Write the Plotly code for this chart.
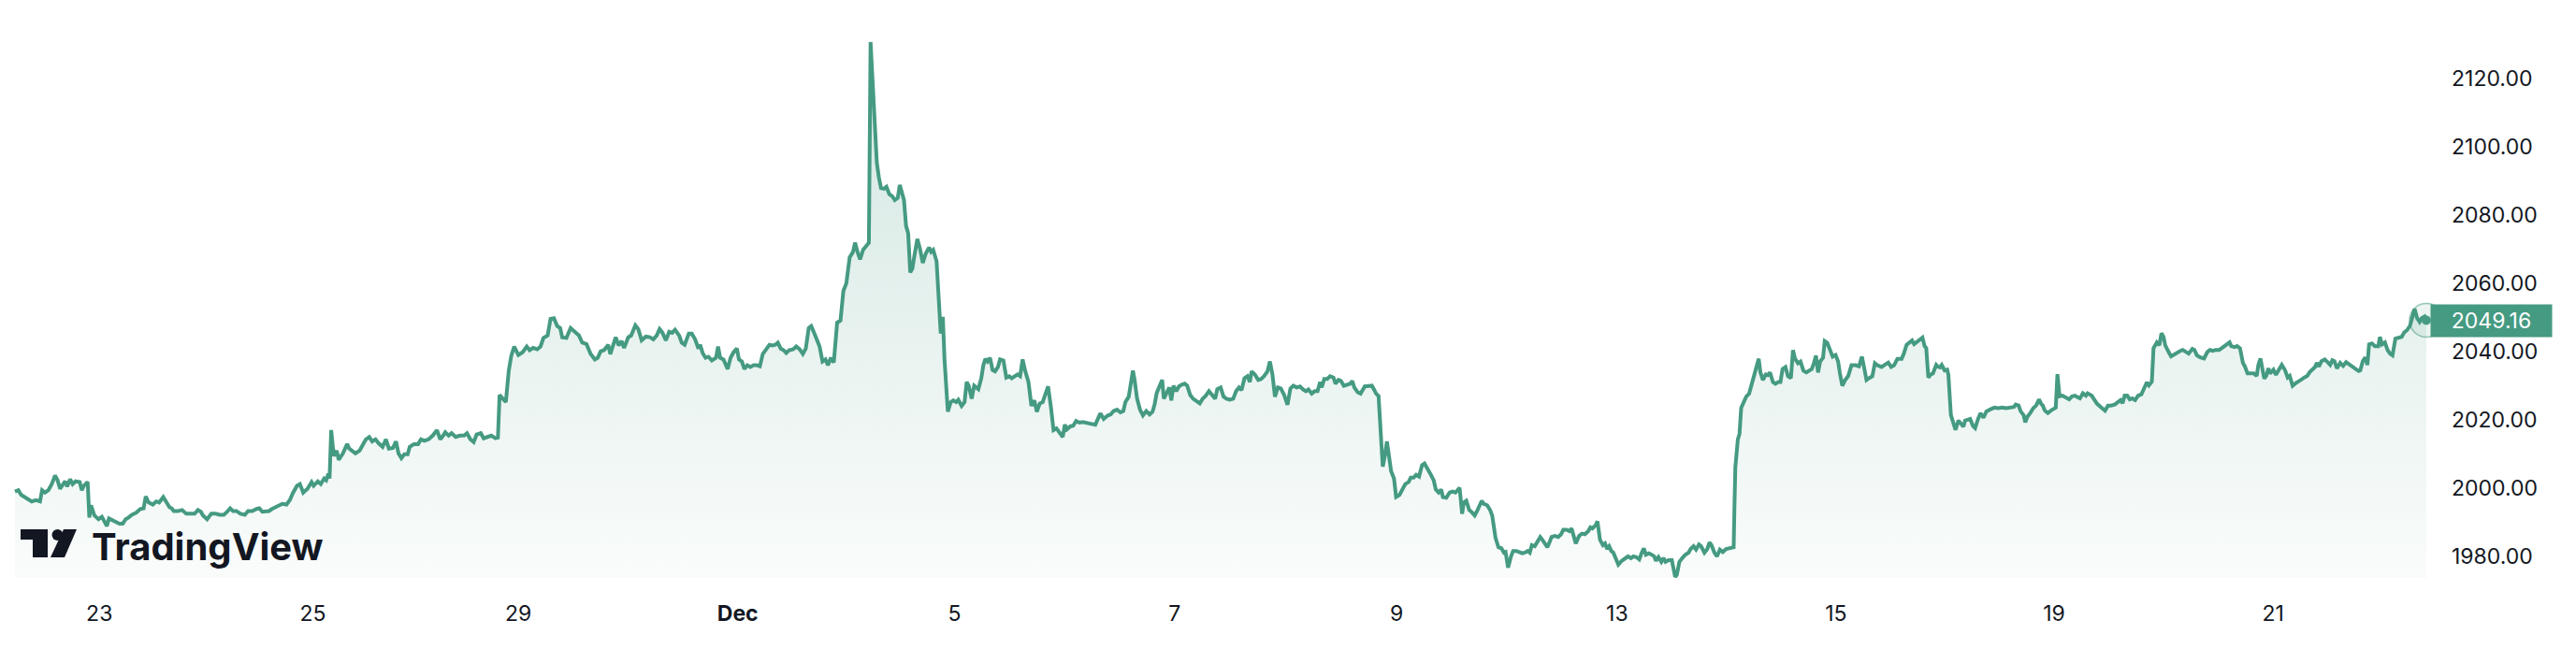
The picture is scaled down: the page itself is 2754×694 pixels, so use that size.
import plotly.graph_objects as go

# ---------------- data (bar index, price) ----------------
nov_pts = [(40,1999.0),(48,1999.4),(55,1998.0),(70,1996.9),(80,1996.1),(90,1996.5),(100,1996.1),(105,1999.4),(112,1998.7),(120,1999.4),
(128,2001.2),(136,2003.7),(142,2002.3),(148,1999.8),(155,2001.2),(160,2002.0),(165,2000.5),(172,2002.6),(178,2001.2),(185,2002.0),
(195,2001.8),(200,1999.4),(205,2000.7),(210,2001.5),(214,2001.8),(218,1991.4),(222,1995.0),(230,1992.0),(240,1990.9),(248,1991.6),
(255,1990.3),(260,1988.9),(265,1991.1),(272,1990.7),(280,1990.0),(290,1989.6),(298,1989.6),(305,1990.9),(312,1991.4),(320,1992.2),
(330,1992.8),(340,1993.9),(348,1994.1),(353,1997.6),(360,1995.8),(370,1995.2),(378,1996.1),(385,1995.8),(395,1997.4),(402,1995.8),
(410,1994.4),(415,1994.1),(420,1993.3),(430,1993.3),(440,1993.6),(450,1992.5),(460,1992.5),(470,1992.5),(478,1993.6),(485,1993.1),
(490,1992.0),(500,1990.9),(510,1992.5),(520,1992.5),(530,1992.2),(540,1992.2),(548,1993.1),(555,1994.1),(562,1993.3),(570,1993.3),
(580,1992.5),(590,1992.2),(598,1993.3),(608,1993.3),(618,1993.9),(625,1994.1),(632,1993.1),(640,1993.3),(648,1993.3),(655,1993.9),
(662,1994.4),(672,1995.0),(680,1995.4),(690,1995.2),(698,1996.5),(705,1998.5),(715,2000.7),(722,2001.2),(730,1998.7),(740,1999.8),
(750,2001.8),(755,2000.7),(765,2002.0),(772,2001.2),(780,2002.8),(785,2002.3),(790,2004.2),(793,2002.8),(797,2017.0),(803,2009.4),
(810,2011.0),(815,2008.3),(825,2010.2),(835,2012.9),(840,2011.6),(855,2010.2),(865,2011.0),(870,2012.1),(880,2014.3),(888,2015.0),
(895,2013.7),(903,2014.3),(910,2013.2),(920,2012.1),(928,2014.3),(935,2011.6),(945,2011.8),(952,2013.7),(958,2010.2),(965,2008.8),
(972,2009.9),(980,2009.9),(985,2012.1),(995,2012.9),(1005,2012.9),(1012,2014.3),(1020,2013.9),(1030,2014.3),(1040,2015.4),(1050,2017.0),
(1058,2014.3),(1065,2015.4),(1070,2016.4),(1078,2015.4),(1085,2016.1),(1095,2015.0),(1105,2015.4),(1115,2015.4),(1122,2016.1),(1130,2014.3),
(1138,2013.5),(1145,2015.7),(1155,2016.1),(1162,2014.6),(1170,2015.0),(1180,2015.4),(1190,2014.6),(1196,2014.8),(1200,2027.3),(1210,2025.7),
(1215,2025.2),(1222,2034.4),(1228,2038.8),(1235,2041.5),(1245,2039.0),(1255,2039.8),(1265,2041.5),(1272,2040.4),(1280,2041.1),(1290,2040.7),
(1298,2041.5),(1305,2044.0),(1315,2044.7),(1322,2049.6),(1330,2049.8),(1338,2047.5),(1345,2046.9),(1350,2044.2),(1360,2044.0),(1370,2046.9),
(1380,2045.8),(1390,2044.7),(1398,2042.6),(1408,2042.2),(1418,2039.3),(1428,2037.7),(1435,2038.2),(1442,2040.1),(1450,2040.4),(1460,2042.0),
(1465,2039.3),(1470,2040.9),(1478,2044.2),(1485,2041.8),(1492,2043.1),(1498,2041.1),(1508,2044.2),(1515,2044.7),(1525,2047.7),(1532,2046.6),
(1540,2043.3),(1550,2044.4),(1560,2044.2)]

early_dec_pts = [(1568,2043.6),(1576,2044.7),(1583,2046.6),(1590,2045.5),(1598,2043.3),(1606,2045.8),(1613,2045.5),(1620,2046.4),(1630,2044.7),
(1636,2042.6),(1643,2042.0),(1653,2045.3),(1660,2045.3),(1668,2043.6),(1676,2040.9),(1680,2042.0),(1686,2039.6),(1693,2038.2),(1700,2038.5),
(1708,2037.4),(1718,2038.2),(1723,2041.5),(1728,2038.2),(1736,2037.7),(1746,2034.9),(1753,2038.2),(1760,2039.8),(1768,2040.9),(1773,2037.7),
(1780,2037.1),(1786,2034.9),(1793,2036.0),(1800,2035.5),(1808,2036.0),(1816,2036.0),(1823,2035.7),(1830,2039.3),(1838,2040.9),(1846,2042.0),
(1853,2041.8),(1860,2042.0),(1866,2042.6),(1873,2040.9),(1880,2040.4),(1886,2039.6),(1893,2040.4),(1903,2040.7),(1910,2041.5),(1918,2040.7),
(1926,2039.3),(1933,2040.9),(1940,2046.9),(1946,2047.5),(1953,2045.5),(1960,2043.6),(1966,2041.5),(1973,2037.1),(1980,2037.7),(1986,2036.0),
(1993,2038.2),(2000,2036.8),(2008,2048.5),(2016,2049.1),(2023,2057.8),(2030,2060.0),(2038,2067.6),(2046,2069.2),(2051,2071.9),(2058,2068.7),
(2063,2067.0),(2070,2069.8),(2078,2071.2),(2084,2071.9),(2088,2130.7),(2093,2117.1),(2098,2102.9),(2103,2095.3),(2108,2091.0),(2113,2087.9),
(2120,2087.7),(2126,2088.3),(2133,2086.1),(2140,2085.5),(2146,2084.4),(2153,2085.0),(2158,2088.8),(2163,2086.1),(2168,2084.4),(2173,2076.8),
(2178,2074.7),(2183,2063.2),(2188,2064.3),(2193,2068.1),(2200,2073.0),(2206,2070.3),(2213,2066.0),(2220,2068.7),(2228,2070.5),(2233,2069.2),
(2238,2069.8),(2246,2066.5),(2250,2058.3),(2256,2045.3),(2261,2050.2),(2265,2037.7),(2273,2022.4),(2280,2025.2),(2286,2025.7),(2293,2025.2),
(2298,2025.9),(2306,2024.1),(2313,2025.2),(2318,2031.1),(2323,2030.0),(2330,2026.2),(2336,2030.0),(2346,2029.0),(2353,2032.2),(2358,2036.0),
(2363,2037.9),(2368,2037.1),(2374,2038.2),(2380,2034.6),(2386,2034.2),(2393,2035.5),(2398,2037.7),(2406,2037.4),(2413,2032.4),(2420,2032.8),
(2426,2032.2),(2433,2032.8),(2440,2033.3),(2446,2032.8),(2452,2037.7),(2458,2034.4),(2466,2031.1),(2473,2024.1),(2480,2025.7),(2486,2022.4),
(2493,2024.8),(2500,2025.2),(2506,2027.3),(2513,2029.8),(2520,2023.5),(2526,2017.0),(2533,2017.5),(2540,2016.1),(2548,2015.0),(2553,2018.6),
(2558,2017.2),(2566,2018.1),(2573,2018.3),(2580,2019.7),(2588,2019.2),(2596,2019.4),(2606,2019.2),(2616,2019.0),(2626,2018.6),(2633,2020.5),
(2638,2021.9),(2646,2020.3),(2656,2021.3),(2663,2021.6),(2670,2022.6),(2678,2023.0),(2686,2022.2),(2693,2022.6),(2698,2025.2),(2706,2026.8),
(2710,2030.0),(2716,2034.4),(2720,2031.7),(2726,2026.2),(2733,2023.0),(2740,2021.3),(2748,2022.6),(2756,2021.6),(2763,2022.4),(2768,2024.6),
(2773,2027.9),(2780,2030.0),(2786,2031.7),(2790,2026.2),(2796,2027.9),(2803,2029.5),(2808,2025.7),(2813,2030.0),(2820,2028.4),(2826,2029.8),
(2833,2030.3),(2840,2030.6),(2846,2030.0),(2853,2027.3),(2860,2026.2),(2868,2025.5),(2876,2024.8),(2883,2026.2),(2890,2027.0),(2898,2028.4),
(2906,2027.0),(2913,2026.2),(2918,2029.0),(2926,2029.5),(2933,2026.8),(2940,2026.2),(2948,2025.9),(2956,2026.2),(2963,2028.4),(2970,2029.5),
(2976,2028.7),(2983,2032.2),(2990,2032.8),(2996,2031.1),(3000,2034.2),(3008,2033.3),(3016,2031.7),(3023,2032.0),(3030,2032.8),(3038,2034.2),
(3044,2037.1),(3050,2033.3),(3056,2026.8),(3063,2029.5),(3070,2029.2),(3078,2027.3),(3086,2024.4),(3093,2029.2),(3100,2030.0),(3108,2029.5),
(3116,2029.8),(3123,2028.9),(3130,2028.4)]

mid_dec_pts = [(3136,2028.9),(3144,2027.7),(3151,2028.4),(3158,2028.4),(3164,2031.1),(3168,2029.5),(3174,2032.0),(3181,2032.0),(3188,2032.8),
(3196,2032.4),(3201,2030.6),(3208,2031.7),(3214,2031.4),(3221,2030.0),(3228,2030.3),(3236,2030.6),(3241,2031.4),(3246,2029.5),(3254,2028.1),
(3261,2027.7),(3271,2029.8),(3281,2029.8),(3288,2030.0),(3294,2028.7),(3298,2027.7),(3304,2027.0),(3308,2017.0),(3314,2006.3),(3319,2009.4),
(3324,2013.7),(3329,2009.4),(3334,2005.0),(3341,2002.8),(3346,1997.4),(3354,1998.0),(3361,1999.4),(3368,2001.2),(3376,2001.8),(3381,2003.1),
(3388,2003.1),(3394,2003.9),(3401,2003.4),(3408,2006.7),(3414,2007.2),(3421,2005.9),(3428,2004.2),(3436,2002.3),(3441,1999.6),(3448,1998.7),
(3454,1999.6),(3458,1997.4),(3466,1997.2),(3474,1998.7),(3481,1999.0),(3488,1998.7),(3494,1999.6),(3498,2000.1),(3504,1992.5),(3508,1995.8),
(3514,1996.3),(3521,1993.6),(3526,1993.1),(3534,1992.0),(3541,1993.6),(3546,1995.2),(3551,1996.3),(3556,1995.4),(3564,1995.0),(3571,1993.6),
(3576,1992.0),(3584,1985.4),(3591,1982.7),(3598,1982.4),(3604,1981.1),(3608,1981.3),(3614,1976.7),(3621,1980.0),(3626,1981.6),(3634,1981.6),
(3641,1981.3),(3648,1980.9),(3654,1981.1),(3661,1981.6),(3666,1981.1),(3671,1983.3),(3678,1983.0),(3684,1984.1),(3691,1985.7),(3696,1984.9),
(3701,1983.8),(3708,1982.7),(3714,1984.4),(3718,1985.7),(3726,1986.0),(3734,1985.7),(3741,1986.5),(3746,1987.8),(3754,1987.8),(3761,1987.4),
(3766,1988.2),(3771,1985.7),(3776,1983.8),(3784,1986.0),(3791,1986.7),(3798,1986.5),(3806,1987.4),(3811,1988.5),(3816,1988.2),(3824,1989.2),
(3828,1990.3),(3834,1984.9),(3841,1983.3),(3846,1983.8),(3851,1982.2),(3856,1983.0),(3861,1981.6),(3866,1981.1),(3871,1979.5),(3878,1977.6),
(3886,1978.7),(3894,1979.5),(3901,1980.0),(3908,1979.5),(3914,1980.0),(3921,1979.8),(3928,1979.1),(3934,1981.1),(3939,1982.4),(3944,1980.5),
(3951,1980.9),(3958,1980.5),(3964,1980.0),(3968,1978.7),(3974,1979.8),(3981,1978.4),(3986,1979.5),(3991,1978.4),(3998,1978.9),(4006,1978.9),
(4014,1974.0),(4018,1974.6),(4024,1978.4),(4031,1979.5),(4038,1980.5),(4046,1981.1),(4051,1982.2),(4058,1983.0),(4064,1982.0),(4071,1983.5),
(4076,1983.0),(4084,1981.1),(4091,1982.2),(4096,1984.1),(4101,1983.3),(4108,1981.1),(4114,1980.0),(4121,1982.0),(4128,1981.3),(4136,1982.2),
(4146,1982.4),(4154,1982.7),(4156,1995.2),(4158,2006.1),(4164,2014.3),(4168,2015.9),(4172,2023.5),(4176,2024.6),(4184,2026.8),(4191,2027.7),
(4196,2030.0),(4201,2032.8),(4206,2034.4),(4214,2037.9),(4218,2033.9),(4224,2031.7),(4231,2033.3),(4236,2033.1),(4241,2033.9),(4248,2031.1),
(4254,2030.6),(4261,2031.1),(4266,2031.1),(4271,2034.9),(4278,2035.5),(4284,2032.8),(4291,2032.2),(4296,2040.4),(4301,2037.9),(4308,2036.6),
(4314,2037.1),(4321,2034.4),(4328,2033.9),(4336,2034.4),(4341,2034.9),(4346,2036.6),(4351,2038.8),(4356,2033.9),(4361,2037.1),(4368,2038.2),
(4372,2043.1),(4378,2042.6),(4386,2040.4),(4391,2038.5),(4398,2039.0),(4404,2037.1),(4408,2033.9),(4414,2030.0),(4421,2031.7),(4428,2032.8),
(4436,2036.0),(4446,2036.0),(4454,2035.7),(4461,2038.5),(4466,2035.5),(4472,2031.7),(4478,2032.2),(4486,2032.8),(4492,2036.6),(4498,2036.0),
(4508,2035.5),(4516,2036.0),(4524,2036.8),(4531,2035.5),(4538,2036.0),(4546,2037.9),(4556,2037.9),(4561,2039.3),(4568,2042.0),(4574,2042.6),
(4581,2043.3),(4586,2042.2)]

late_dec_pts = [(4592,2042.7),(4599,2043.4),(4606,2044.1),(4611,2041.6),(4615,2041.0),(4620,2032.4),(4625,2033.2),(4631,2033.6),(4639,2036.1),
(4643,2035.6),(4648,2035.4),(4652,2036.1),(4659,2034.5),(4665,2034.7),(4668,2033.2),(4674,2021.4),(4680,2019.3),(4685,2017.1),(4692,2019.8),
(4699,2018.7),(4704,2018.0),(4708,2019.8),(4713,2020.1),(4720,2020.3),(4727,2018.2),(4732,2017.6),(4739,2020.3),(4745,2022.0),(4752,2020.6),
(4759,2022.5),(4769,2023.1),(4778,2023.6),(4787,2023.4),(4797,2023.6),(4806,2023.4),(4815,2023.6),(4825,2023.8),(4829,2024.5),(4836,2024.2),
(4841,2022.5),(4848,2021.4),(4852,2019.3),(4857,2020.9),(4864,2022.0),(4871,2023.4),(4878,2024.2),(4885,2026.0),(4890,2024.7),(4894,2024.2),
(4899,2022.7),(4906,2022.0),(4913,2022.7),(4919,2023.1),(4925,2023.6),(4929,2033.4),(4934,2026.9),(4941,2027.1),(4950,2026.6),(4957,2026.0),
(4964,2026.9),(4971,2027.1),(4978,2026.6),(4983,2026.3),(4990,2027.8),(4997,2027.1),(5001,2027.8),(5011,2027.1),(5018,2025.8),(5024,2024.7),
(5034,2023.6),(5043,2022.7),(5050,2024.2),(5057,2024.2),(5066,2024.5),(5074,2025.3),(5080,2025.8),(5085,2024.9),(5090,2027.1),(5096,2027.1),
(5102,2026.0),(5108,2026.3),(5115,2025.8),(5122,2027.1),(5130,2027.5),(5136,2029.1),(5143,2031.0),(5148,2030.1),(5155,2031.2),(5159,2041.0),
(5167,2042.7),(5173,2041.9),(5178,2045.4),(5183,2044.3),(5187,2041.9),(5195,2039.9),(5201,2038.6),(5208,2039.1),(5215,2039.7),(5223,2040.2),
(5229,2040.5),(5236,2039.9),(5243,2039.4),(5252,2040.8),(5257,2040.5),(5263,2038.9),(5271,2038.3),(5280,2038.0),(5288,2039.9),(5294,2040.5),
(5301,2040.2),(5308,2040.5),(5316,2040.5),(5322,2041.0),(5329,2041.6),(5336,2042.1),(5341,2042.7),(5345,2041.6),(5353,2041.3),(5359,2041.6),
(5366,2041.0),(5373,2036.7),(5378,2035.6),(5384,2033.6),(5392,2033.6),(5399,2033.6),(5406,2032.9),(5410,2036.1),(5415,2038.0),(5420,2034.5),
(5424,2032.1),(5429,2032.9),(5434,2035.1),(5438,2033.6),(5446,2034.7),(5452,2033.2),(5459,2034.5),(5466,2036.1),(5474,2034.5),(5480,2032.4),
(5485,2032.9),(5492,2030.0),(5499,2030.7),(5505,2031.3),(5513,2031.8),(5520,2032.4),(5527,2032.9),(5533,2034.0),(5539,2034.7),(5545,2035.4),
(5550,2036.7),(5555,2035.6),(5561,2037.2),(5569,2037.7),(5576,2036.9),(5582,2036.1),(5587,2037.5),(5592,2037.2),(5598,2035.1),(5606,2036.7),
(5613,2035.8),(5620,2036.9),(5629,2036.1),(5635,2035.6),(5643,2034.7),(5650,2034.3),(5654,2034.5),(5660,2037.2),(5666,2038.3),(5671,2036.1),
(5675,2042.1),(5682,2042.4),(5689,2041.6),(5697,2041.6),(5701,2044.3),(5706,2042.1),(5713,2042.7),(5719,2040.5),(5725,2039.4),(5731,2038.9),
(5738,2043.8),(5745,2044.1),(5753,2044.3),(5759,2045.6),(5766,2046.3),(5773,2047.6),(5778,2049.8),(5784,2052.5),(5790,2049.8),(5796,2048.7),
(5801,2049.8),(5808,2050.3),(5812,2049.16)]

tick_bars = [242, 753, 1245, 1770, 2289, 2816, 3347, 3875, 4399, 4921, 5445]
tick_labels = ["23", "25", "29", "<b>Dec</b>", "5", "7", "9", "13", "15", "19", "21"]
price_ticks = [1980, 2000, 2020, 2040, 2060, 2080, 2100, 2120]
last_price = 2049.16

all_pts = nov_pts + early_dec_pts + mid_dec_pts + late_dec_pts
bars = [p[0] for p in all_pts]
prices = [p[1] for p in all_pts]

# ---------------- styling ----------------
W, H = 2754, 694
ML, MR, MT, MB = 14, 156, 0, 76
PW, PH = W - ML - MR, H - MT - MB
GREEN = "#459a82"
TEXT = "#131722"
FONT = "Inter, Roboto, 'Noto Sans', sans-serif"


def px(x):
    return (x - ML) / PW


def py(y):
    return 1 - (y - MT) / PH


fig = go.Figure()
fig.add_trace(go.Scatter(
    x=bars, y=prices, mode="lines",
    line=dict(color=GREEN, width=4),
    fill="tozeroy",
    fillgradient=dict(type="vertical", start=1974, stop=2131,
                      colorscale=[[0, "rgba(69,154,130,0.03)"], [1, "rgba(69,154,130,0.24)"]]),
    hoverinfo="skip", showlegend=False,
))
fig.add_trace(go.Scatter(
    x=[bars[-1]], y=[prices[-1]], mode="markers",
    marker=dict(size=36, color="rgba(69,154,130,0.10)", line=dict(color="rgba(69,154,130,0.55)", width=1.5)),
    cliponaxis=False, hoverinfo="skip", showlegend=False,
))
fig.add_trace(go.Scatter(
    x=[bars[-1]], y=[prices[-1]], mode="markers",
    marker=dict(size=10, color=GREEN),
    cliponaxis=False, hoverinfo="skip", showlegend=False,
))

# price label
fig.add_annotation(
    x=1, xref="paper", xanchor="left", y=last_price, yref="y", yanchor="middle",
    text=f"{last_price:.2f}", showarrow=False,
    font=dict(family=FONT, size=23, color="white"),
    bgcolor=GREEN, width=125, height=30, borderpad=2, align="center",
)

# TradingView logo
fig.add_annotation(
    x=px(96), xref="paper", xanchor="left", y=py(584), yref="paper", yanchor="middle",
    text="<b>TradingView</b>", showarrow=False,
    font=dict(family=FONT, size=40, color=TEXT),
)
logo = [
    [(22, 566), (51, 566), (51, 596), (35, 596), (35, 577), (22, 577)],
    [(68, 566), (82, 566), (69, 596), (54, 596)],
]
for poly in logo:
    d = "M " + " L ".join(f"{px(x):.6f},{py(y):.6f}" for x, y in poly) + " Z"
    fig.add_shape(type="path", path=d, xref="paper", yref="paper",
                  fillcolor=TEXT, line=dict(width=0), layer="above")
fig.add_shape(type="circle", xref="paper", yref="paper",
              x0=px(55.5), x1=px(67.5), y0=py(578), y1=py(566),
              fillcolor=TEXT, line=dict(width=0), layer="above")

fig.update_layout(
    width=W, height=H, autosize=False,
    margin=dict(l=ML, r=MR, t=MT, b=MB, pad=0),
    paper_bgcolor="white", plot_bgcolor="white",
    font=dict(family=FONT, size=23, color=TEXT),
    xaxis=dict(range=[35.5, 5821], tickvals=tick_bars, ticktext=tick_labels,
               showgrid=False, zeroline=False, showline=False, ticks="",
               ticklabelstandoff=22, tickfont=dict(size=23, color=TEXT)),
    yaxis=dict(range=[1973.7, 2143.0], side="right", tickvals=price_ticks,
               ticktext=[f"{v:.2f}" for v in price_ticks],
               showgrid=False, zeroline=False, showline=False, ticks="",
               ticklabelstandoff=22, tickfont=dict(size=23, color=TEXT)),
)

fig.write_html("out.html", config={"displayModeBar": False},
               post_script="document.body.style.margin='0';document.body.style.overflow='hidden';")
